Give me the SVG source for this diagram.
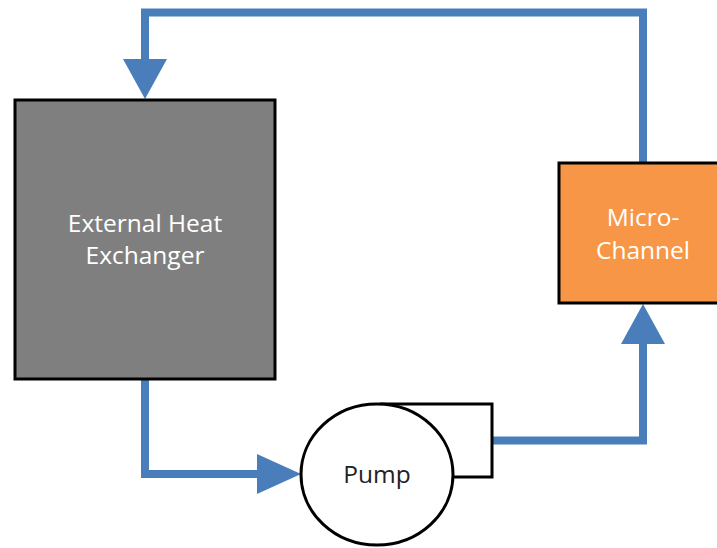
<svg xmlns="http://www.w3.org/2000/svg" width="717" height="548" viewBox="0 0 717 548">
<style>
.flow{fill:none;stroke:#4A7EBB;stroke-width:8;stroke-linejoin:miter}
.head{fill:#4A7EBB}
.box{stroke:#000;stroke-width:3}
.lbl{font-family:"Open Sans","Liberation Sans",sans-serif;font-size:24.5px;text-anchor:middle}
</style>
<rect width="717" height="548" fill="#fff"/>
<g id="connectors">
<path class="flow" d="M145,60 V12.5 H643 V163"/>
<polygon class="head" points="123,59 167,59 145,99"/>
<path class="flow" d="M145,379 V474 H258"/>
<polygon class="head" points="257,454 257,494 301,474"/>
<path class="flow" d="M493,440.5 H643 V343"/>
<polygon class="head" points="621,344 665,344 643,304"/>
</g>
<g id="external-heat-exchanger">
<rect class="box" x="15" y="100" width="260" height="279" fill="#7F7F7F"/>
<text class="lbl" x="145" y="232" fill="#fff">External Heat</text>
<text class="lbl" x="145" y="264" fill="#fff">Exchanger</text>
</g>
<g id="micro-channel">
<rect class="box" x="559" y="163" width="170" height="140" fill="#F79646"/>
<text class="lbl" x="643" y="226" fill="#fff">Micro-</text>
<text class="lbl" x="643" y="259" fill="#fff">Channel</text>
</g>
<g id="pump">
<path d="M380,404 H492 V477 H452" fill="#fff" stroke="#000" stroke-width="3"/>
<ellipse cx="377" cy="474.5" rx="76" ry="70.5" fill="#fff" stroke="#000" stroke-width="3"/>
<text class="lbl" x="377" y="483" fill="#222">Pump</text>
</g>
</svg>
